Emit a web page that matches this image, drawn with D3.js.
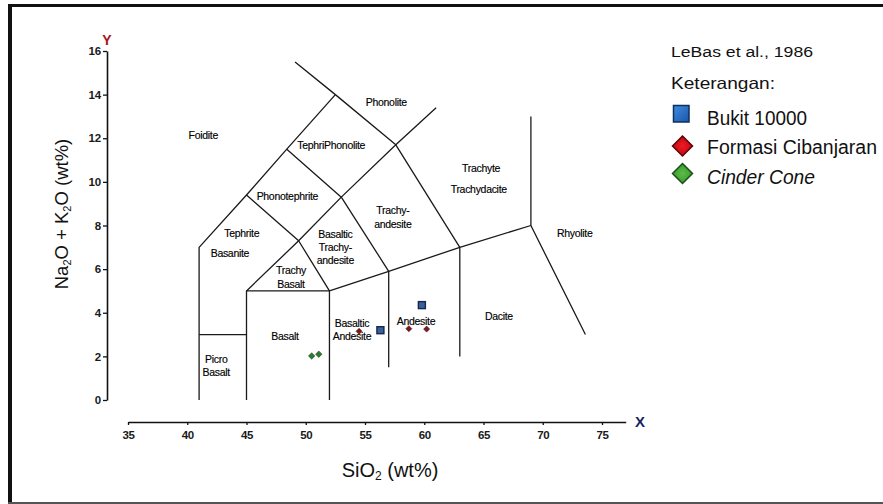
<!DOCTYPE html>
<html>
<head>
<meta charset="utf-8">
<script src="https://cdn.jsdelivr.net/npm/d3@7"></script>
<style>
  html, body { margin: 0; padding: 0; background: #fff; }
  svg { display: block; }
</style>
</head>
<body>
<svg id="chart" width="883" height="504"></svg>
<script>
// ---------- data ----------
const xTicks = [35, 40, 45, 50, 55, 60, 65, 70, 75];
const yTicks = [0, 2, 4, 6, 8, 10, 12, 14, 16];

// TAS (LeBas et al., 1986) field boundaries, [SiO2, Na2O+K2O]
const boundaries = [
  [[41, 0], [41, 7], [45, 9.4], [48.4, 11.5], [52.5, 14], [49.1, 15.5]],
  [[41, 3], [45, 3]],
  [[45, 0], [45, 5], [52, 5]],
  [[52, 0], [52, 5], [57, 5.9], [63, 7], [69, 8], [73.6, 3]],
  [[57, 1.5], [57, 5.9]],
  [[63, 2], [63, 7]],
  [[69, 8], [69, 13]],
  [[45, 5], [49.4, 7.3], [53, 9.3], [57.6, 11.7], [61, 13.4]],
  [[45, 9.4], [49.4, 7.3], [52, 5]],
  [[48.4, 11.5], [53, 9.3], [57, 5.9]],
  [[52.5, 14], [57.6, 11.7], [63, 7]]
];

const fieldNames = [
  { t: ["Foidite"], x: 41.35, y: 12.15 },
  { t: ["Phonolite"], x: 56.8, y: 13.65 },
  { t: ["TephriPhonolite"], x: 52.15, y: 11.65 },
  { t: ["Phonotephrite"], x: 48.45, y: 9.35 },
  { t: ["Tephrite"], x: 44.6, y: 7.65 },
  { t: ["Basanite"], x: 43.6, y: 6.7 },
  { t: ["Basaltic", "Trachy-", "andesite"], x: 52.5, y: 7.0 },
  { t: ["Trachy-", "andesite"], x: 57.35, y: 8.37 },
  { t: ["Trachyte"], x: 64.8, y: 10.62 },
  { t: ["Trachydacite"], x: 64.6, y: 9.66 },
  { t: ["Rhyolite"], x: 72.7, y: 7.65 },
  { t: ["Dacite"], x: 66.3, y: 3.85 },
  { t: ["Trachy", "Basalt"], x: 48.75, y: 5.62 },
  { t: ["Basalt"], x: 48.25, y: 2.9 },
  { t: ["Picro", "Basalt"], x: 42.45, y: 1.56 },
  { t: ["Basaltic", "Andesite"], x: 53.9, y: 3.2 },
  { t: ["Andesite"], x: 59.3, y: 3.62 }
];

const bukitSiO2 = [56.3, 59.8];
const bukitAlk = [3.2, 4.35];
const cibanjaranSiO2 = [54.5, 58.7, 60.2];
const cibanjaranAlk = [3.15, 3.27, 3.25];
const cinderSiO2 = [50.5, 51.1];
const cinderAlk = [2.02, 2.1];

const legendTitle = "LeBas et al., 1986";
const legendSub = "Keterangan:";
const seriesNames = ["Bukit 10000", "Formasi Cibanjaran", "Cinder Cone"];

// ---------- drawing ----------
const svg = d3.select("#chart");
const x = d3.scaleLinear().domain([35, 75]).range([128, 602]);
const xAxisScale = d3.scaleLinear().domain([35, 77]).range([x(35), x(77)]);
const y = d3.scaleLinear().domain([0, 16]).range([400, 51]);

// frame
svg.append("rect").attr("x", 8).attr("y", 4).attr("width", 4).attr("height", 500).attr("fill", "#111");
svg.append("rect").attr("x", 8).attr("y", 4).attr("width", 875).attr("height", 3).attr("fill", "#111");
svg.append("rect").attr("x", 8).attr("y", 502).attr("width", 875).attr("height", 2).attr("fill", "#555");

const tickFont = "'Liberation Sans', Arial, sans-serif";

// y axis
const yAxis = svg.append("g").attr("transform", "translate(107,0)")
  .call(d3.axisLeft(y).tickValues(yTicks).tickSize(4).tickSizeOuter(0).tickPadding(2));
yAxis.select(".domain").attr("stroke", "#111").attr("stroke-width", 1.6);
yAxis.selectAll(".tick line").attr("stroke", "#111").attr("stroke-width", 1.3);
yAxis.selectAll(".tick text").attr("font-family", tickFont).attr("font-size", 11.5).attr("font-weight", "bold")
  .attr("fill", "#1a1a1a").attr("letter-spacing", -0.2);

// x axis
const xAxis = svg.append("g").attr("transform", "translate(0,422)")
  .call(d3.axisBottom(xAxisScale).tickValues(xTicks).tickSize(3).tickSizeOuter(0).tickPadding(6));
xAxis.select(".domain").attr("stroke", "#111").attr("stroke-width", 1.6);
xAxis.selectAll(".tick line").attr("stroke", "#111").attr("stroke-width", 1.3);
xAxis.selectAll(".tick text").attr("font-family", tickFont).attr("font-size", 11.5).attr("font-weight", "bold")
  .attr("fill", "#1a1a1a").attr("letter-spacing", -0.5);

// axis letters
svg.append("text").attr("x", 107).attr("y", 45).attr("text-anchor", "middle")
  .attr("font-family", "'Liberation Sans', Arial, sans-serif").attr("font-weight", "bold")
  .attr("font-size", 14).attr("fill", "#a8141a").text("Y");
svg.append("text").attr("x", 640).attr("y", 427).attr("text-anchor", "middle")
  .attr("font-family", "'Liberation Sans', Arial, sans-serif").attr("font-weight", "bold")
  .attr("font-size", 15).attr("fill", "#1b1f5e").text("X");

// boundaries
const line = d3.line().x(d => x(d[0])).y(d => y(d[1]));
svg.append("g").selectAll("path").data(boundaries).join("path")
  .attr("d", line).attr("fill", "none").attr("stroke", "#1a1a1a")
  .attr("stroke-width", 1.3).attr("stroke-linejoin", "round");

// field names
const fg = svg.append("g").attr("font-family", "'Liberation Sans', Arial, sans-serif")
  .attr("font-size", 10.5).attr("fill", "#000").attr("text-anchor", "middle").attr("letter-spacing", -0.3)
  .attr("stroke", "#000").attr("stroke-width", 0.15);
fieldNames.forEach(f => {
  const n = f.t.length, lh = 13.3;
  const t = fg.append("text").attr("x", x(f.x)).attr("y", y(f.y) - (n - 1) * lh / 2 + 3.6);
  f.t.forEach((s, i) => t.append("tspan").attr("x", x(f.x)).attr("dy", i === 0 ? 0 : lh).text(s));
});

// data points
const pts = svg.append("g");
pts.selectAll("rect.bk").data(bukitSiO2.map((v, i) => [v, bukitAlk[i]])).join("rect")
  .attr("x", d => x(d[0]) - 3.5).attr("y", d => y(d[1]) - 3.5).attr("width", 7).attr("height", 7)
  .attr("fill", "#3a5f9a").attr("stroke", "#14284f").attr("stroke-width", 1.4);
const diamond = (cx, cy, r) => `M${cx},${cy - r}L${cx + r},${cy}L${cx},${cy + r}L${cx - r},${cy}Z`;
pts.selectAll("path.cb").data(cibanjaranSiO2.map((v, i) => [v, cibanjaranAlk[i]])).join("path")
  .attr("d", d => diamond(x(d[0]), y(d[1]), 3)).attr("fill", "#7a1a1e").attr("stroke", "#4a0a0c").attr("stroke-width", 0.6);
pts.selectAll("path.cc").data(cinderSiO2.map((v, i) => [v, cinderAlk[i]])).join("path")
  .attr("class", "cc")
  .attr("d", d => diamond(x(d[0]), y(d[1]), 3.2)).attr("fill", "#2f7a2f").attr("stroke", "#174a17").attr("stroke-width", 0.6);

// axis titles
const yt = svg.append("text").attr("transform", "translate(68,214) rotate(-90)").attr("text-anchor", "middle")
  .attr("font-family", "'Liberation Sans', Arial, sans-serif").attr("font-size", 18.5).attr("fill", "#111");
yt.append("tspan").text("Na");
yt.append("tspan").attr("font-size", 11).attr("dy", 2.5).text("2");
yt.append("tspan").attr("dy", -2.5).text("O + K");
yt.append("tspan").attr("font-size", 11).attr("dy", 2.5).text("2");
yt.append("tspan").attr("dy", -2.5).text("O (wt%)");

const xt = svg.append("text").attr("x", 390).attr("y", 477).attr("text-anchor", "middle")
  .attr("font-family", "'Liberation Sans', Arial, sans-serif").attr("font-size", 20).attr("fill", "#111");
xt.append("tspan").text("SiO");
xt.append("tspan").attr("font-size", 12).attr("dy", 2.5).text("2");
xt.append("tspan").attr("dy", -2.5).text(" (wt%)");

// legend
const lf = "'Liberation Sans', Arial, sans-serif";
svg.append("text").attr("x", 671).attr("y", 57).attr("font-family", lf).attr("font-size", 15.5)
  .attr("fill", "#111").attr("textLength", 142).attr("lengthAdjust", "spacingAndGlyphs").text(legendTitle);
svg.append("text").attr("x", 671).attr("y", 88.5).attr("font-family", lf).attr("font-size", 16.5)
  .attr("fill", "#111").attr("textLength", 104).attr("lengthAdjust", "spacingAndGlyphs").text(legendSub);

const defs = svg.append("defs");
const gradB = defs.append("linearGradient").attr("id", "gB").attr("x1", 0).attr("y1", 0).attr("x2", 1).attr("y2", 1);
gradB.append("stop").attr("offset", 0).attr("stop-color", "#3f8ee0");
gradB.append("stop").attr("offset", 1).attr("stop-color", "#1a55a8");
const gradR = defs.append("radialGradient").attr("id", "gR");
gradR.append("stop").attr("offset", 0).attr("stop-color", "#f01a22");
gradR.append("stop").attr("offset", 1).attr("stop-color", "#c00812");
const gradG = defs.append("radialGradient").attr("id", "gG");
gradG.append("stop").attr("offset", 0).attr("stop-color", "#5cbc48");
gradG.append("stop").attr("offset", 1).attr("stop-color", "#3a9a30");

svg.append("rect").attr("x", 673.5).attr("y", 105.5).attr("width", 15.5).attr("height", 16.5)
  .attr("fill", "url(#gB)").attr("stroke", "#0f2f5e").attr("stroke-width", 1.5);
svg.append("path").attr("d", diamond(682.5, 146, 10)).attr("fill", "url(#gR)")
  .attr("stroke", "#5a0508").attr("stroke-width", 1.5);
svg.append("path").attr("d", diamond(682.5, 173.5, 10)).attr("fill", "url(#gG)")
  .attr("stroke", "#1d4f18").attr("stroke-width", 1.5);

const legW = [100, 170, 108];
const legY = [125, 154, 183.5];
seriesNames.forEach((s, i) => {
  svg.append("text").attr("x", 707).attr("y", legY[i]).attr("font-family", lf).attr("font-size", 19.5)
    .attr("font-style", i === 2 ? "italic" : "normal").attr("fill", "#111")
    .attr("textLength", legW[i]).attr("lengthAdjust", "spacingAndGlyphs").text(s);
});
</script>
</body>
</html>
